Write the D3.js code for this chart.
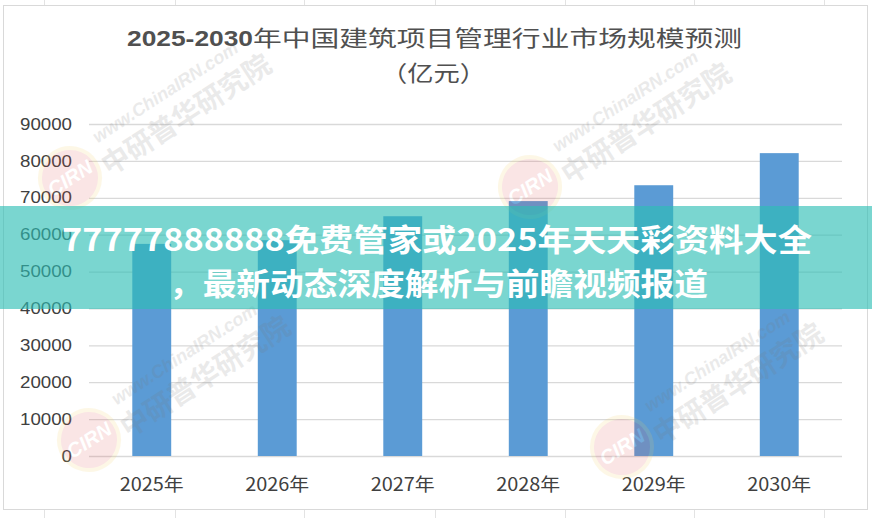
<!DOCTYPE html>
<html><head><meta charset="utf-8">
<script src="https://cdn.jsdelivr.net/npm/d3@7"></script>
<style>body{margin:0;background:#fff}svg{display:block}</style>
</head><body><svg id="c" width="872" height="518"></svg>
<script>
const years = ["2025年","2026年","2027年","2028年","2029年","2030年"];
const values = [57500, 58500, 65000, 69100, 73400, 82100];
const yTicks = [0,10000,20000,30000,40000,50000,60000,70000,80000,90000];
const titleBold = "2025-2030";
const titleRest = "年中国建筑项目管理行业市场规模预测";
const subtitle = "（亿元）";
const bannerLines = ["77777888888免费管家或2025年天天彩资料大全","，最新动态深度解析与前瞻视频报道"];
const wmUrl = "www.ChinaIRN.com";
const wmName = "中研普华研究院";

const svg = d3.select("#c");
const W = 872, H = 518;
const latin = "'Liberation Sans','Noto Sans CJK SC',sans-serif";
const cjk = "'Noto Sans CJK SC','Liberation Sans',sans-serif";

// spreadsheet grid behind
[44,175,304,435,565,694,824].forEach(x=>{
  svg.append("line").attr("x1",x+0.5).attr("x2",x+0.5).attr("y1",0).attr("y2",H)
    .attr("stroke","#e3e3e3");
});
svg.append("rect").attr("x",3.5).attr("y",5.5).attr("width",864).attr("height",504)
  .attr("fill","#fff").attr("stroke","#d9d9d9");

const x = d3.scaleBand().domain(years).range([89,842]).paddingInner(0.69).paddingOuter(0.345);
const y = d3.scaleLinear().domain([0,90000]).range([456,124]);

// gridlines + y labels
const ya = svg.append("g").attr("transform","translate(89,0)")
  .call(d3.axisLeft(y).tickValues(yTicks).tickSize(-(842-89)).tickPadding(17).tickFormat(d3.format("d")));
ya.select(".domain").remove();
ya.selectAll(".tick line").attr("stroke","#d9d9d9").attr("stroke-width",1.3);
ya.selectAll(".tick text").attr("fill","#404040").attr("font-size",16).attr("font-family",latin)
  .each(function(d){ const s=String(d); d3.select(this).attr("textLength",s.length*10.4).attr("lengthAdjust","spacingAndGlyphs"); });

// bars
svg.append("g").selectAll("rect").data(values).join("rect")
  .attr("x",(d,i)=>x(years[i])).attr("width",x.bandwidth())
  .attr("y",d=>y(d)).attr("height",d=>y(0)-y(d)).attr("fill","#5b9bd5");

// x labels
const xa = svg.append("g").attr("transform","translate(0,456)")
  .call(d3.axisBottom(x).tickSize(0).tickPadding(22));
xa.select(".domain").remove();
xa.selectAll(".tick text").attr("fill","#404040").attr("font-size",18).attr("font-family",cjk)
  .attr("textLength",64).attr("lengthAdjust","spacingAndGlyphs");

// title
svg.append("text").attr("x",127).attr("y",46).text(titleBold)
  .attr("font-family",latin).attr("font-weight","bold").attr("font-size",22).attr("fill","#505050")
  .attr("textLength",126).attr("lengthAdjust","spacingAndGlyphs");
svg.append("text").attr("x",253).attr("y",46).text(titleRest)
  .attr("font-family",cjk).attr("font-size",22).attr("fill","#505050")
  .attr("textLength",489).attr("lengthAdjust","spacingAndGlyphs");
svg.append("text").attr("x",381).attr("y",81).text(subtitle)
  .attr("font-family",cjk).attr("font-size",22).attr("fill","#505050")
  .attr("textLength",105).attr("lengthAdjust","spacingAndGlyphs");

// watermarks
function watermark(cx, cy){
  const g = svg.append("g").attr("transform",`translate(${cx},${cy}) rotate(-33)`).attr("opacity",0.15);
  g.append("circle").attr("r",30).attr("fill","#e25555");
  g.append("circle").attr("r",30).attr("fill","none").attr("stroke","#f5d060").attr("stroke-width",4);
  g.append("text").text("CIRN").attr("text-anchor","middle").attr("y",7).attr("font-size",20)
    .attr("font-weight","bold").attr("font-style","italic").attr("font-family",latin).attr("fill","#fff");
  g.append("text").text(wmUrl).attr("x",42).attr("y",-14).attr("font-size",18).attr("font-style","italic")
    .attr("font-weight","bold").attr("font-family",latin).attr("fill","#777");
  g.append("text").text(wmName).attr("x",34).attr("y",20).attr("font-size",28)
    .attr("font-weight","bold").attr("font-family",cjk).attr("fill","#777");
}
watermark(70,178);
watermark(530,187);
watermark(89,440);
watermark(622,447);

// banner
svg.append("rect").attr("x",0).attr("y",206).attr("width",W).attr("height",103)
  .attr("fill","rgb(45,190,180)").attr("opacity",0.63);
svg.append("text").attr("x",62).attr("y",251).text(bannerLines[0])
  .attr("font-family",cjk).attr("font-weight","bold").attr("font-size",31).attr("fill","#fff")
  .attr("textLength",750).attr("lengthAdjust","spacingAndGlyphs");
svg.append("text").attr("x",169).attr("y",295).text(bannerLines[1])
  .attr("font-family",cjk).attr("font-weight","bold").attr("font-size",31).attr("fill","#fff")
  .attr("textLength",539).attr("lengthAdjust","spacingAndGlyphs");
</script></body></html>
